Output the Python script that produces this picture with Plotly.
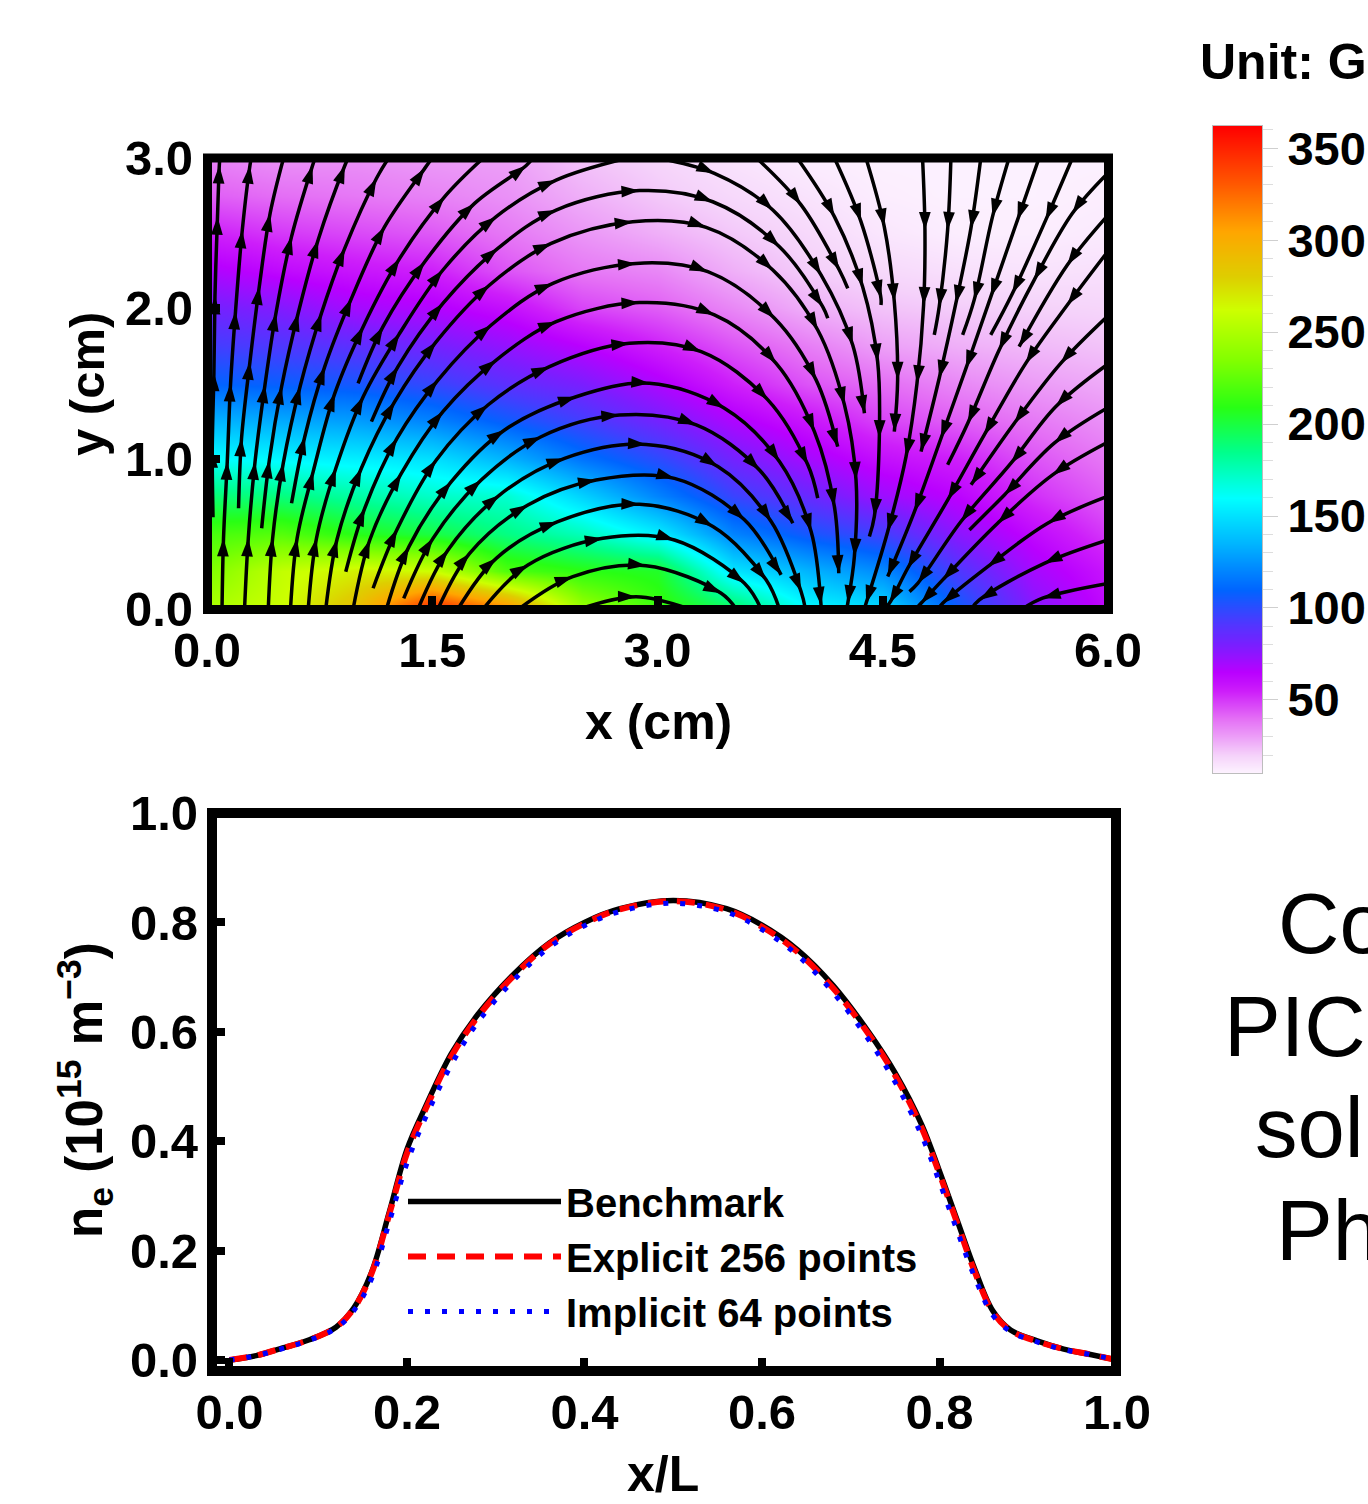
import math
import plotly.graph_objects as go

W, H = 1368, 1504

# ---------- top panel: field magnitude (G) ----------
field_x = [0.0, 0.5, 1.0, 1.5, 2.0, 2.5, 3.0, 3.5, 4.0, 4.5, 5.0, 5.5, 6.0]
field_y = [0.0, 0.25, 0.5, 0.75, 1.0, 1.25, 1.5, 1.75, 2.0, 2.25, 2.5, 2.75, 3.0]
field_z = [
    [250, 262, 290, 352, 318, 245, 215, 195, 160, 148, 108, 78, 62],
    [234, 258, 268, 262, 220, 210, 205, 152, 135, 122, 92, 70, 58],
    [218, 222, 208, 200, 187, 175, 155, 120, 105, 95, 76, 62, 50],
    [190, 188, 180, 172, 170, 145, 120, 97, 85, 72, 64, 52, 43],
    [160, 158, 155, 150, 135, 115, 100, 82, 70, 60, 55, 45, 38],
    [135, 132, 128, 120, 107, 95, 82, 68, 58, 48, 43, 38, 33],
    [110, 108, 105, 98, 88, 80, 68, 55, 45, 40, 35, 31, 28],
    [95, 92, 88, 82, 74, 65, 55, 45, 37, 30, 27, 25, 23],
    [82, 78, 70, 67, 60, 48, 43, 35, 27, 23, 21, 20, 19],
    [68, 62, 58, 55, 45, 38, 35, 27, 21, 18, 16, 15, 16],
    [55, 50, 47, 44, 38, 32, 27, 22, 18, 14, 12, 12, 13],
    [43, 40, 38, 36, 33, 27, 22, 18, 15, 12, 11, 11, 12],
    [36, 33, 33, 31, 30, 23, 19, 15, 12, 11, 11, 11, 11],
]

color_values = [10.3, 20, 40, 55, 65, 80, 94, 110, 135, 160, 185, 209, 235, 262, 280, 305, 330, 362]
color_stops = ["#fdf3ff", "#f5d2fa", "#e46ef5", "#cd1efa", "#b900ff", "#7a1eff", "#463cff", "#0064ff",
               "#00b4ff", "#00ffff", "#00ff8c", "#28ff14", "#82ff00", "#cdff00", "#dece00", "#ffa500",
               "#ff5a00", "#ff0000"]
colorbar_levels = [10.3, 20, 30, 40, 50, 55, 60, 65, 70, 80, 90, 94, 100, 110, 120, 135, 150, 160, 170, 185, 200,
                   209, 220, 235, 250, 262, 270, 280, 290, 305, 320, 330, 345, 362]

# streamlines (cm), one list per line
streams = [
    [(.04,.61),(.035,1.06),(.046,1.57),(.053,2.08),(.07,2.61),(.082,2.95),(.086,3)],
    [(.10,0),(.11,.47),(.135,.98),(.157,1.5),(.19,1.98),(.235,2.52),(.286,2.95),(.295,3)],
    [(.21,.67),(.23,1.135),(.286,1.645),(.348,2.144),(.42,2.63),(.51,3)],
    [(.25,0),(.275,.47),(.32,.98),(.386,1.49),(.459,1.967),(.563,2.477),(.703,2.95),(.72,3)],
    [(.364,.537),(.415,.99),(.497,1.48),(.607,1.967),(.74,2.455),(.918,2.95),(.94,3)],
    [(.408,0),(.437,.47),(.508,.97),(.62,1.48),(.762,1.967),(.917,2.399),(1.128,2.864),(1.21,3)],
    [(.563,.703),(.651,1.146),(.784,1.612),(.962,2.066),(1.183,2.543),(1.45,2.931),(1.5,3)],
    [(.556,0),(.60,.47),(.707,.914),(.851,1.434),(1.04,1.878),(1.283,2.332),(1.583,2.743),(1.84,3)],
    [(1.006,1.501),(1.172,1.878),(1.45,2.31),(1.782,2.698),(2.126,2.95),(2.17,3)],
    [(.674,0),(.729,.47),(.858,.936),(1.04,1.412),(1.283,1.834),(1.571,2.255),(1.926,2.61),(2.325,2.853),(2.8,3)],
    [(1.095,1.246),(1.272,1.612),(1.571,2.033),(1.937,2.399),(2.325,2.654),(2.88,2.783),(3.368,2.709),(3.812,2.41),(4.1,2.011),(4.134,1.934)],
    [(.791,0),(.866,.464),(1.028,.936),(1.25,1.379),(1.527,1.778),(1.882,2.155),(2.292,2.432),(2.835,2.576),(3.324,2.539),(3.768,2.255),(4.067,1.856),(4.245,1.358),(4.322,.859),(4.311,.349),(4.267,.038),(4.26,0)],
    [(.924,.248),(1.05,.67),(1.265,1.135),(1.538,1.523),(1.893,1.889),(2.303,2.166),(2.857,2.299),(3.335,2.244),(3.779,1.934),(4.056,1.524),(4.2,1.08)],
    [(.973,0),(1.084,.459),(1.294,.902),(1.571,1.313),(1.926,1.656),(2.325,1.911),(2.88,2.038),(3.379,1.956),(3.79,1.634),(4.045,1.18),(4.178,.681),(4.207,.238)],
    [(1.106,.138),(1.266,.53),(1.527,.991),(1.871,1.357),(2.281,1.612),(2.813,1.767),(3.291,1.712),(3.735,1.391),(4.001,.959),(4.067,.737)],
    [(1.195,0),(1.345,.415),(1.627,.847),(1.982,1.191),(2.458,1.412),(2.946,1.501),(3.446,1.336),(3.812,.981),(4.023,.515),(4.089,.027),(4.09,0)],
    [(1.31,.071),(1.505,.47),(1.826,.858),(2.225,1.146),(2.746,1.29),(3.258,1.225),(3.679,.925),(3.901,.571)],
    [(1.405,0),(1.605,.393),(1.948,.758),(2.381,1.002),(2.924,1.095),(3.402,.948),(3.757,.582),(3.956,.116),(3.985,0)],
    [(1.538,0),(1.749,.37),(2.137,.692),(2.591,.858),(3.113,.869),(3.579,.593),(3.823,.227)],
    [(1.671,0),(1.926,.337),(2.336,.581),(2.88,.696),(3.369,.548),(3.723,.194),(3.812,0)],
    [(1.838,0),(2.137,.293),(2.636,.47),(3.113,.459),(3.579,.171),(3.69,0)],
    [(2.077,0),(2.436,.215),(2.924,.288),(3.424,.105),(3.524,0)],
    [(2.48,0),(2.857,.082),(3.213,0)],
    [(3.0,3.0),(3.379,2.898),(3.768,2.654),(4.089,2.222),(4.3,1.756),(4.378,1.302)],
    [(3.66,3),(3.956,2.688),(4.211,2.255),(4.267,2.133)],
    [(3.93,3),(4.178,2.61),(4.366,2.144),(4.466,1.645),(4.477,1.136),(4.444,.615),(4.411,.482)],
    [(4.178,3),(4.355,2.577),(4.488,2.067),(4.488,2.022)],
    [(4.388,3),(4.51,2.544),(4.577,2.045),(4.599,1.524),(4.577,1.18)],
    [(4.765,3),(4.781,2.521),(4.772,2.022),(4.728,1.501),(4.655,1.014),(4.533,.515),(4.389,.038),(4.377,0)],
    [(4.954,3),(4.932,2.521),(4.876,2.011),(4.843,1.823)],
    [(5.153,3),(5.087,2.532),(4.987,2.034),(4.876,1.535),(4.755,1.047)],
    [(5.341,3),(5.231,2.61),(5.109,2.056),(5.032,1.823)],
    [(5.541,3),(5.397,2.587),(5.22,2.078),(5.054,1.601),(4.888,1.136),(4.711,.648),(4.533,.216)],
    [(5.763,3),(5.585,2.587),(5.364,2.1),(5.219,1.823)],
    [(6,2.9),(5.763,2.632),(5.508,2.188),(5.275,1.723),(5.066,1.236),(4.932,.959)],
    [(6,2.62),(5.729,2.288),(5.408,1.745)],
    [(6,2.38),(5.729,2.022),(5.452,1.634),(5.176,1.158),(4.933,.726),(4.666,.271),(4.544,.038),(4.51,0)],
    [(6,1.95),(5.685,1.634),(5.376,1.236),(5.088,.826)],
    [(6,1.63),(5.653,1.347),(5.354,.97),(5.021,.582),(4.733,.171),(4.678,.116)],
    [(6,1.34),(5.642,1.103),(5.31,.759),(5.077,.526)],
    [(6,1.11),(5.631,.892),(5.265,.571),(4.899,.194),(4.755,.038),(4.72,0)],
    [(6,.75),(5.598,.571),(5.199,.282),(4.899,.038),(4.87,0)],
    [(6,.46),(5.576,.304),(5.143,.06),(5.09,0)],
    [(6,.17),(5.564,.072),(5.43,0)],
]

# ---------- bottom panel ----------
pos = [0, .03, .06, .09, .12, .14, .16, .18, .2, .22, .25, .28, .32, .36, .4, .44, .5,
       .56, .6, .64, .68, .72, .75, .78, .8, .82, .84, .86, .88, .91, .94, .97, 1]
benchmark = [0, .008, .022, .037, .06, .095, .16, .27, .385, .46, .56, .632, .705, .762, .80, .825, .84,
             .825, .795, .75, .685, .60, .525, .43, .345, .255, .165, .09, .055, .035, .02, .01, 0]
explicit = [0, .008, .022, .037, .06, .094, .158, .266, .378, .455, .555, .628, .702, .76, .798, .824, .839,
            .823, .792, .746, .68, .596, .52, .424, .34, .25, .16, .088, .054, .034, .02, .01, 0]
implicit = [0, .008, .021, .036, .058, .09, .148, .252, .36, .44, .54, .618, .694, .754, .794, .82, .835,
            .819, .787, .74, .672, .586, .508, .41, .325, .236, .15, .082, .052, .033, .019, .01, 0]

# ---------- helpers ----------
FONT = "Liberation Sans"
def px_dom_x(a, b): return [a / W, b / W]
def px_dom_y(top, bottom): return [1 - bottom / H, 1 - top / H]
def px(x): return x / W
def py(y): return 1 - y / H

cmin, cmax = color_values[0], color_values[-1]
colorscale = [[(v - cmin) / (cmax - cmin), c] for v, c in zip(color_values, color_stops)]

fig = go.Figure()
fig.add_trace(go.Heatmap(x=field_x, y=field_y, z=field_z, zmin=cmin, zmax=cmax, colorscale=colorscale,
                         zsmooth="best", showscale=False, hoverinfo="skip", xaxis="x", yaxis="y"))

for s in streams:
    xs = [p[0] for p in s]
    ys = [p[1] for p in s]
    sizes, angles = [], []
    n = len(s)
    for i in range(n):
        a = s[max(i - 1, 0)]
        b = s[min(i + 1, n - 1)]
        angles.append(math.degrees(math.atan2(b[0] - a[0], b[1] - a[1])))
        on_edge = ys[i] <= 0.02 or ys[i] >= 2.99 or xs[i] >= 5.99
        short_end = i == n - 1 and math.hypot(xs[i] - xs[i - 1], ys[i] - ys[i - 1]) < 0.335
        sizes.append(0 if (i == 0 or on_edge or short_end) else 19)
    fig.add_trace(go.Scatter(x=xs, y=ys, mode="lines+markers", showlegend=False, hoverinfo="skip",
                             line=dict(color="black", width=3.5, shape="spline", smoothing=1),
                             marker=dict(symbol="arrow", size=sizes, angle=angles, color="black", opacity=1,
                                         line=dict(width=0)),
                             xaxis="x", yaxis="y"))

fig.add_trace(go.Heatmap(x=[0, 1], y=colorbar_levels, z=[[v, v] for v in colorbar_levels], zmin=cmin, zmax=cmax,
                         colorscale=colorscale, zsmooth="best", showscale=False, hoverinfo="skip",
                         xaxis="x3", yaxis="y3"))

fig.add_trace(go.Scatter(x=pos, y=benchmark, name="Benchmark", mode="lines",
                         line=dict(color="black", width=5.5, shape="spline"), xaxis="x2", yaxis="y2"))
fig.add_trace(go.Scatter(x=pos, y=explicit, name="Explicit 256 points", mode="lines",
                         line=dict(color="#ff0000", width=6, dash="18px,11px", shape="spline"), xaxis="x2", yaxis="y2"))
fig.add_trace(go.Scatter(x=pos, y=implicit, name="Implicit 64 points", mode="lines",
                         line=dict(color="#0000ff", width=5, dash="5px,12px", shape="spline"), xaxis="x2", yaxis="y2"))

tickfont = dict(family=FONT, size=49, color="black", weight=700)
common = dict(showgrid=False, zeroline=False, showline=False, ticks="inside", tickcolor="black",
              tickfont=tickfont, ticklen=13, tickwidth=8, automargin=False)

fig.update_layout(
    width=W, height=H, margin=dict(l=0, r=0, t=0, b=0, autoexpand=False), paper_bgcolor="white", plot_bgcolor="white",
    font=dict(family=FONT, color="black"), hovermode=False,
    xaxis=dict(domain=px_dom_x(207, 1108), range=[0, 6], tickvals=[0, 1.5, 3, 4.5, 6],
               ticktext=["0.0", "1.5", "3.0", "4.5", "6.0"], anchor="y", ticklabelstandoff=8, **common),
    yaxis=dict(domain=px_dom_y(158, 609), range=[0, 3], tickvals=[0, 1, 2, 3],
               ticktext=["0.0", "1.0", "2.0", "3.0"], anchor="x", ticklabelstandoff=13, **common),
    xaxis2=dict(domain=px_dom_x(212, 1117), range=[-0.0197, 1.0], tickvals=[0, .2, .4, .6, .8, 1],
                ticktext=["0.0", "0.2", "0.4", "0.6", "0.8", "1.0"], anchor="y2", ticklabelstandoff=8, **common),
    yaxis2=dict(domain=px_dom_y(813, 1371), range=[-0.0201, 1.0], tickvals=[0, .2, .4, .6, .8, 1],
                ticktext=["0.0", "0.2", "0.4", "0.6", "0.8", "1.0"], anchor="x2", ticklabelstandoff=13, **common),
    xaxis3=dict(domain=px_dom_x(1213, 1262), range=[0, 1], showticklabels=False, ticks="", showgrid=False,
                zeroline=False, showline=True, mirror=True, linecolor="#bdbdbd", linewidth=1, anchor="y3",
                automargin=False),
    yaxis3=dict(domain=px_dom_y(126, 773), range=[cmin, cmax], side="right", anchor="x3", showgrid=False,
                zeroline=False, tickvals=[50, 100, 150, 200, 250, 300, 350], ticks="outside", ticklen=15,
                tickwidth=1, tickcolor="#cfcfcf", tickfont=dict(family=FONT, size=47, color="black", weight=700),
                ticklabelstandoff=0, showline=True, mirror=True, linecolor="#bdbdbd", linewidth=1, automargin=False,
                minor=dict(dtick=10, tick0=0, ticks="outside", ticklen=10, tickwidth=1, tickcolor="#dddddd")),
    legend=dict(x=px(403), y=py(1169), xanchor="left", yanchor="top", bgcolor="rgba(0,0,0,0)",
                font=dict(family=FONT, size=40, color="black", weight=700), itemwidth=153,
                tracegroupgap=0),
    shapes=[
        dict(type="rect", xref="paper", yref="paper", layer="above", x0=px(207.5), x1=px(1108.5),
             y0=py(609.5), y1=py(158), line=dict(color="black", width=9)),
        dict(type="rect", xref="paper", yref="paper", layer="above", x0=px(212), x1=px(1116),
             y0=py(1371), y1=py(813), line=dict(color="black", width=10)),
    ],
)

def note(text, x, y, size, bold=True, anchor="center", angle=0):
    fig.add_annotation(text=text, xref="paper", yref="paper", x=px(x), y=py(y), xanchor=anchor, yanchor="middle",
                       showarrow=False, textangle=angle, borderpad=0,
                       font=dict(family=FONT, size=size, color="black", weight=700 if bold else 400))

note("x (cm)", 658, 722, 50)
note("y (cm)", 87, 384, 49, angle=-90)
note("x/L", 663, 1474, 50)
note("n<sub>e</sub> (10<sup>15</sup> m<sup>−3</sup>)", 85, 1090, 51, angle=-90)
note("Unit: G", 1199, 62, 50, anchor="left")
note("Co", 1277, 923, 85, bold=False, anchor="left")
note("PIC", 1223, 1026, 85, bold=False, anchor="left")
note("sol", 1254, 1127, 85, bold=False, anchor="left")
note("Ph", 1275, 1230, 85, bold=False, anchor="left")

fig.write_html("out.html", config={"displayModeBar": False},
               post_script="document.body.style.margin='0';document.body.style.overflow='hidden';")
